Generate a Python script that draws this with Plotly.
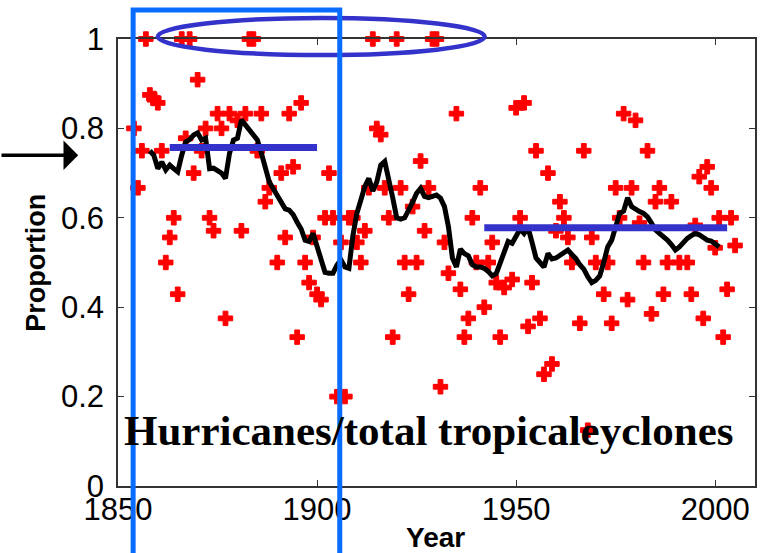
import plotly.graph_objects as go

# Annual proportion of hurricanes among all tropical cyclones
years = [1854, 1855, 1856, 1857, 1858, 1859, 1860, 1861, 1862, 1863, 1864, 1865, 1866, 1867, 1868, 1869,
         1870, 1871, 1872, 1873, 1874, 1875, 1876, 1877, 1878, 1880, 1881, 1882, 1883, 1884, 1885, 1886,
         1887, 1888, 1890, 1891, 1892, 1893, 1894, 1895, 1896, 1897, 1898, 1899, 1900, 1901, 1902, 1903,
         1904, 1905, 1906, 1907, 1908, 1909, 1910, 1911, 1912, 1913, 1914, 1915, 1916, 1917, 1918, 1919,
         1920, 1921, 1922, 1923, 1924, 1925, 1926, 1927, 1928, 1929, 1930, 1931, 1932, 1933, 1935, 1936,
         1937, 1938, 1939, 1940, 1941, 1942, 1943, 1944, 1945, 1946, 1947, 1949, 1950, 1951, 1952, 1953,
         1954, 1955, 1956, 1957, 1958, 1959, 1960, 1961, 1962, 1963, 1964, 1966, 1967, 1968, 1969, 1970,
         1972, 1973, 1974, 1975, 1976, 1977, 1978, 1979, 1980, 1981, 1982, 1983, 1984, 1985, 1986, 1987,
         1988, 1989, 1991, 1993, 1994, 1995, 1996, 1997, 1998, 1999, 2000, 2001, 2002, 2003, 2004, 2005]
proportion = [0.80, 0.667, 0.75, 1.0, 0.875, 0.867, 0.857, 0.75, 0.5, 0.556, 0.6, 0.429, 1.0, 0.778, 1.0, 0.70,
              0.909, 0.75, 0.80, 0.6, 0.571, 0.833, 0.80, 0.375, 0.833, 0.818, 0.571, 0.833, 1.0, 1.0, 0.75, 0.833,
              0.636, 0.667, 0.5, 0.70, 0.556, 0.833, 0.714, 0.333, 0.857, 0.5, 0.455, 0.556, 0.429, 0.417, 0.6, 0.70,
              0.6, 0.2, 0.545, 0.2, 0.6, 0.6, 0.545, 0.5, 0.571, 0.667, 1.0, 0.80, 0.786, 0.667, 0.6, 0.333,
              1.0, 0.667, 0.5, 0.429, 0.625, 0.5, 0.727, 0.571, 0.667, 1.0, 1.0, 0.222, 0.545, 0.476, 0.833, 0.44,
              0.333, 0.375, 0.6, 0.5, 0.667, 0.4, 0.5, 0.545, 0.455, 0.333, 0.444, 0.462, 0.846, 0.6, 0.857, 0.357,
              0.455, 0.75, 0.375, 0.25, 0.70, 0.273, 0.571, 0.636, 0.6, 0.556, 0.5, 0.364, 0.75, 0.125, 0.556, 0.5,
              0.429, 0.5, 0.364, 0.667, 0.6, 0.833, 0.417, 0.667, 0.818, 0.588, 0.5, 0.75, 0.385, 0.636, 0.667, 0.429,
              0.5, 0.636, 0.5, 0.5, 0.429, 0.583, 0.692, 0.375, 0.714, 0.667, 0.533, 0.6, 0.333, 0.44, 0.6, 0.538]

# Running-mean curve
smooth_years = list(range(1858, 2002))
smooth_values = [0.75, 0.74, 0.71, 0.725, 0.707, 0.718, 0.71, 0.703, 0.74, 0.77, 0.775, 0.785,
                 0.79, 0.774, 0.778, 0.71, 0.711, 0.705, 0.70, 0.688, 0.744, 0.774, 0.778, 0.819,
                 0.808, 0.795, 0.785, 0.774, 0.745, 0.71, 0.68, 0.665, 0.65, 0.635, 0.62, 0.617,
                 0.607, 0.59, 0.575, 0.55, 0.547, 0.565, 0.535, 0.502, 0.478, 0.476, 0.476, 0.494,
                 0.506, 0.49, 0.487, 0.56, 0.61, 0.64, 0.67, 0.688, 0.66, 0.68, 0.718, 0.726,
                 0.69, 0.645, 0.60, 0.597, 0.60, 0.615, 0.635, 0.655, 0.666, 0.648, 0.645, 0.648,
                 0.651, 0.644, 0.625, 0.58, 0.51, 0.49, 0.53, 0.52, 0.515, 0.495, 0.49, 0.49,
                 0.487, 0.48, 0.47, 0.475, 0.50, 0.53, 0.547, 0.543, 0.56, 0.575, 0.565, 0.578,
                 0.545, 0.51, 0.50, 0.49, 0.52, 0.508, 0.51, 0.515, 0.52, 0.528, 0.518, 0.509,
                 0.495, 0.485, 0.468, 0.455, 0.46, 0.47, 0.50, 0.535, 0.55, 0.585, 0.61, 0.615,
                 0.645, 0.625, 0.618, 0.614, 0.61, 0.602, 0.588, 0.573, 0.565, 0.558, 0.55, 0.54,
                 0.528, 0.535, 0.545, 0.554, 0.56, 0.565, 0.562, 0.556, 0.55, 0.548, 0.54, 0.535]

# Period means (start year, end year, level)
early_mean = (1863, 1900, 0.757)
late_mean = (1942, 2003, 0.578)

# Highlight regions
box_years = (1853.8, 1905.7)
box_levels = (-0.2, 1.065)
ring_years = (1860.0, 1942.1)
ring_levels = (0.964, 1.047)
arrow_tip = (1840.0, 0.74)

x_ticks = [1850, 1900, 1950, 2000]
y_ticks = [0, 0.2, 0.4, 0.6, 0.8, 1]
y_ticktext = ["0", "0.2", "0.4", "0.6", "0.8", "1"]

X_RANGE = [1850, 2010]
Y_RANGE = [0, 1]


def px(year):
    return (year - X_RANGE[0]) / (X_RANGE[1] - X_RANGE[0])


def py(value):
    return (value - Y_RANGE[0]) / (Y_RANGE[1] - Y_RANGE[0])


RED = "#ff0000"
DARK_BLUE = "#3333cc"
BRIGHT_BLUE = "#0a6cff"

fig = go.Figure()

fig.add_trace(go.Scatter(
    x=years, y=proportion, mode="markers",
    marker=dict(symbol="cross", size=12, color=RED, line=dict(color=RED, width=1)),
    cliponaxis=False, showlegend=False,
))

fig.add_trace(go.Scatter(
    x=smooth_years, y=smooth_values, mode="lines",
    line=dict(color="black", width=5), showlegend=False,
))

for start, end, level in (early_mean, late_mean):
    fig.add_trace(go.Scatter(
        x=[start, end], y=[level, level], mode="lines",
        line=dict(color=DARK_BLUE, width=7), showlegend=False,
    ))

fig.add_shape(type="circle", xref="paper", yref="paper",
              x0=px(ring_years[0]), x1=px(ring_years[1]),
              y0=py(ring_levels[0]), y1=py(ring_levels[1]),
              line=dict(color=DARK_BLUE, width=4.5), layer="above")

fig.add_shape(type="rect", xref="paper", yref="paper",
              x0=px(box_years[0]), x1=px(box_years[1]),
              y0=py(box_levels[0]), y1=py(box_levels[1]),
              line=dict(color=BRIGHT_BLUE, width=5), layer="above")

fig.add_annotation(
    x=px(arrow_tip[0]), y=py(arrow_tip[1]), xref="paper", yref="paper",
    ax=-80, ay=0, axref="pixel", ayref="pixel",
    showarrow=True, arrowhead=1, arrowsize=1.4, arrowwidth=3.5, arrowcolor="black", text="",
)

fig.add_annotation(
    x=px(1928.0), y=py(0.125), xref="paper", yref="paper",
    xanchor="center", yanchor="middle",
    text="<b>Hurricanes/total tropicaleyclones</b>", showarrow=False,
    font=dict(family="Liberation Serif", size=43, color="black"),
)

fig.add_annotation(
    x=px(1929.8), y=py(-0.116), xref="paper", yref="paper",
    xanchor="center", yanchor="middle",
    text="<b>Year</b>", showarrow=False,
    font=dict(family="Liberation Sans", size=28, color="black"),
)
fig.add_annotation(
    x=px(1829.2), y=py(0.5), xref="paper", yref="paper",
    xanchor="center", yanchor="middle",
    text="<b>Proportion</b>", showarrow=False, textangle=-90,
    font=dict(family="Liberation Sans", size=27, color="black"),
)

axis_common = dict(
    showline=True, linecolor="#333333", linewidth=1.5, mirror="ticks",
    ticks="inside", ticklen=6, tickwidth=1.2, tickcolor="#333333",
    showgrid=False, zeroline=False,
    tickfont=dict(family="Liberation Sans", size=31, color="black"),
)

fig.update_xaxes(range=X_RANGE, tickvals=x_ticks, ticklabelstandoff=-5, **axis_common)
fig.update_yaxes(range=Y_RANGE, tickvals=y_ticks, ticktext=y_ticktext, ticklabelstandoff=6, **axis_common)

fig.update_layout(
    width=763, height=553,
    margin=dict(l=118, r=6, t=39, b=67),
    plot_bgcolor="white", paper_bgcolor="white",
    showlegend=False,
)

fig.write_html("out.html")
